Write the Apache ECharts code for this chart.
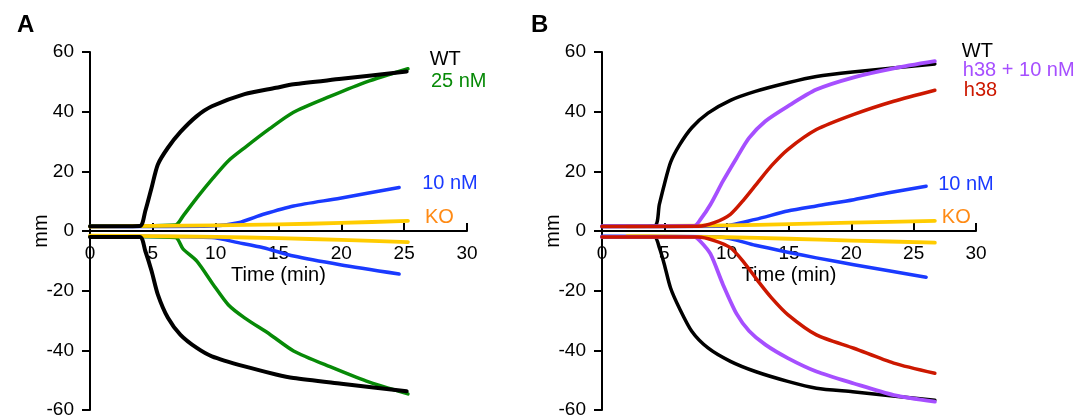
<!DOCTYPE html>
<html>
<head>
<meta charset="utf-8">
<script src="https://cdn.jsdelivr.net/npm/echarts@6/dist/echarts.min.js"></script>
<style>
html,body{margin:0;padding:0;background:#fff;}
#chart{width:1087px;height:420px;}
</style>
</head>
<body>
<div id="chart"></div>
<script>
// ---------- Data (time in min, response in mm) ----------
const xTicks = [0, 5, 10, 15, 20, 25, 30];
const yTicks = [-60, -40, -20, 0, 20, 40, 60];

// Panel A
const A_WT_t  = [0, 3.96, 4.4, 4.9, 5.4, 6.2, 7.2, 8.5, 9.7, 12.3, 14.8, 16.2, 20, 25.2];
const A_WT_up = [1.6, 1.7, 6.7, 14.5, 22.3, 27.9, 33.2, 38.5, 41.8, 45.9, 48, 49.2, 51, 53.5];
const A_WT_dn = [-2, -2, -6.7, -13.4, -21.3, -29.1, -34.8, -39.2, -42, -45.4, -48.1, -49.3, -51.2, -53.7];

const A_25_t  = [0, 6.8, 7.4, 8.5, 9.8, 11, 12.3, 14.3, 16.2, 19.1, 22, 25.3];
const A_25_up = [1.6, 2, 5, 11.1, 17.8, 23.5, 27.9, 34.3, 39.8, 45.1, 50, 54.4];
const A_25_dn = [-1.8, -2.2, -6, -10.1, -17.9, -24.7, -29.1, -34.6, -40.2, -45.5, -50.3, -54.6];

const A_10_t  = [0, 9.7, 11.8, 13.8, 16.2, 19.9, 24.6];
const A_10_up = [1.5, 1.7, 2.8, 5.6, 8.4, 11, 14.6];
const A_10_dn = [-1.8, -2.2, -3.9, -5.6, -8.4, -11.3, -14.4];

const A_KO_t  = [0, 5, 10, 15, 20, 25.3];
const A_KO_up = [1.5, 1.7, 1.9, 2.2, 2.7, 3.4];
const A_KO_dn = [-1.6, -1.7, -2, -2.4, -3, -3.7];

// Panel B
const B_WT_t  = [0, 4.2, 4.6, 5.0, 5.5, 6.2, 7.2, 8.5, 10.3, 12.3, 14.9, 17.2, 20.1, 26.7];
const B_WT_up = [1.6, 1.7, 8.9, 15.6, 23, 28.7, 34.6, 39.5, 43.8, 46.8, 49.7, 51.8, 53.3, 56];
const B_WT_dn = [-2, -2, -5.6, -11.2, -19.1, -25.8, -33.6, -39.2, -43.7, -47.1, -50.4, -52.7, -53.9, -56.7];

const B_H10_t  = [0, 7.4, 7.9, 8.7, 9.7, 10.8, 11.8, 13.1, 14.9, 17.2, 20.2, 23.4, 26.7];
const B_H10_up = [1.6, 1.7, 3.9, 8.9, 16.7, 24.5, 31.2, 36.8, 41.8, 47.4, 51.5, 54.5, 56.9];
const B_H10_dn = [-2, -2, -3.5, -7.7, -17.9, -27.8, -33.5, -38.1, -42.6, -47.1, -51.1, -55, -57.2];

const B_H38_t  = [0, 7.7, 9.0, 10.3, 11.4, 12.5, 13.6, 14.9, 17.2, 20.2, 23.4, 26.7];
const B_H38_up = [1.5, 1.6, 2.8, 5.6, 10.6, 16.3, 21.9, 27.3, 34, 39.1, 43.5, 47.2];
const B_H38_dn = [-2, -2, -3.2, -5.6, -10.6, -16.7, -22.4, -28, -34.8, -39.3, -44.3, -47.7];

const B_10_t  = [0, 9.5, 12.3, 14.9, 17.2, 20.2, 23, 26];
const B_10_up = [1.5, 1.6, 3.9, 6.7, 8.4, 10.5, 12.8, 15];
const B_10_dn = [-1.8, -2, -4.8, -7.1, -9, -11.3, -13.3, -15.5];

const B_KO_t  = [2, 5, 10, 15, 20, 26.7];
const B_KO_up = [1.6, 1.7, 1.9, 2.3, 2.8, 3.4];
const B_KO_dn = [-1.7, -1.8, -2.1, -2.6, -3.2, -3.9];

// ---------- Styling ----------
const FONT = "'Liberation Sans', Arial, sans-serif";
const C = {
  black: '#000000', green: '#078a07', blue: '#1a3aff', yellow: '#ffcc00',
  orange: '#ff8a14', purple: '#a64fff', red: '#cc1800'
};

function zip(t, v) { return t.map((x, i) => [x, v[i]]); }

function curve(panel, t, v, color, width, label, labelColor, offset) {
  const s = {
    type: 'line',
    xAxisIndex: panel, yAxisIndex: panel,
    data: zip(t, v),
    showSymbol: false, symbol: 'none',
    smooth: 0.25,
    lineStyle: { color: color, width: width, cap: 'round', join: 'round' },
    itemStyle: { color: color },
    silent: true,
    animation: false
  };
  if (label) {
    s.endLabel = {
      show: true, formatter: label, color: labelColor || color,
      fontSize: 20, fontFamily: FONT, distance: 0, offset: offset,
      align: 'left', verticalAlign: 'middle'
    };
  }
  return s;
}

// hidden x axis for the data grids
function xAxisData(grid) {
  return { type: 'value', gridIndex: grid, min: 0, max: 30, interval: 5, show: false };
}
// visible x axis drawn along the y = 0 line (bottom of upper-half helper grid)
function xAxisVisible(grid) {
  return {
    type: 'value', gridIndex: grid, min: 0, max: 30, interval: 5, position: 'bottom',
    axisLine: { show: true, onZero: false, lineStyle: { color: '#000', width: 2 } },
    axisTick: { show: true, inside: true, length: 8, lineStyle: { color: '#000', width: 2 } },
    axisLabel: { color: '#000', fontSize: 19, fontFamily: FONT, margin: 13, showMinLabel: true, showMaxLabel: true,
                 formatter: v => xTicks.includes(v) ? String(v) : '' },
    splitLine: { show: false },
    name: 'Time (min)', nameLocation: 'middle', nameGap: 34, nameMoveOverlap: false,
    nameTextStyle: { color: '#000', fontSize: 20, fontFamily: FONT }
  };
}
function yAxisData(grid) {
  return {
    type: 'value', gridIndex: grid, min: -60, max: 60, interval: 20,
    axisLine: { show: true, onZero: false, lineStyle: { color: '#000', width: 2 } },
    axisTick: { show: true, inside: false, length: 8, lineStyle: { color: '#000', width: 2 } },
    axisLabel: { color: '#000', fontSize: 19, fontFamily: FONT, margin: 16,
                 formatter: v => yTicks.includes(v) ? String(v) : '' },
    splitLine: { show: false },
    name: 'mm', nameLocation: 'middle', nameGap: 39, nameRotate: 90, nameMoveOverlap: false,
    nameTextStyle: { color: '#000', fontSize: 20, fontFamily: FONT }
  };
}
function yAxisHelper(grid) {
  return { type: 'value', gridIndex: grid, min: 0, max: 60, interval: 20, show: false };
}

const GA = { left: 90, top: 52, width: 377, height: 358 };
const GB = { left: 602, top: 52, width: 374, height: 358 };

const option = {
  backgroundColor: '#fff',
  animation: false,
  title: [
    { text: 'A', left: 12, top: 8, textStyle: { fontSize: 24, fontWeight: 'bold', color: '#000', fontFamily: FONT } },
    { text: 'B', left: 526, top: 8, textStyle: { fontSize: 24, fontWeight: 'bold', color: '#000', fontFamily: FONT } }
  ],
  grid: [
    Object.assign({ outerBoundsMode: 'none', containLabel: false }, GA),
    Object.assign({ outerBoundsMode: 'none', containLabel: false }, GB),
    { outerBoundsMode: 'none', containLabel: false, left: GA.left, top: GA.top, width: GA.width, height: GA.height / 2 },
    { outerBoundsMode: 'none', containLabel: false, left: GB.left, top: GB.top, width: GB.width, height: GB.height / 2 }
  ],
  xAxis: [xAxisData(0), xAxisData(1), xAxisVisible(2), xAxisVisible(3)],
  yAxis: [yAxisData(0), yAxisData(1), yAxisHelper(2), yAxisHelper(3)],
  series: [
    // Panel A
    curve(0, A_10_t, A_10_up, C.blue, 3.5, '10 nM', C.blue, [23, -4]),
    curve(0, A_10_t, A_10_dn, C.blue, 3.5),
    curve(0, A_25_t, A_25_up, C.green, 3.5, '25 nM', C.green, [23, 13]),
    curve(0, A_25_t, A_25_dn, C.green, 3.5),
    curve(0, A_KO_t, A_KO_up, C.yellow, 3.8, 'KO', C.orange, [17, -3]),
    curve(0, A_KO_t, A_KO_dn, C.yellow, 3.8),
    curve(0, A_WT_t, A_WT_up, C.black, 4, 'WT', C.black, [23, -12]),
    curve(0, A_WT_t, A_WT_dn, C.black, 4),
    // Panel B
    curve(1, B_10_t, B_10_up, C.blue, 3.5, '10 nM', C.blue, [12, -2]),
    curve(1, B_10_t, B_10_dn, C.blue, 3.5),
    curve(1, B_KO_t, B_KO_up, C.yellow, 3.8, 'KO', C.orange, [7, -3]),
    curve(1, B_KO_t, B_KO_dn, C.yellow, 3.8),
    curve(1, B_WT_t, B_WT_up, C.black, 3.5, 'WT', C.black, [27, -12]),
    curve(1, B_WT_t, B_WT_dn, C.black, 3.5),
    curve(1, B_H10_t, B_H10_up, C.purple, 3.8, 'h38 + 10 nM', C.purple, [28, 9]),
    curve(1, B_H10_t, B_H10_dn, C.purple, 3.8),
    curve(1, B_H38_t, B_H38_up, C.red, 3.5, 'h38', C.red, [29, 0]),
    curve(1, B_H38_t, B_H38_dn, C.red, 3.5)
  ]
};

const chart = echarts.init(document.getElementById('chart'), null, { renderer: 'canvas' });
chart.setOption(option);
</script>
</body>
</html>
